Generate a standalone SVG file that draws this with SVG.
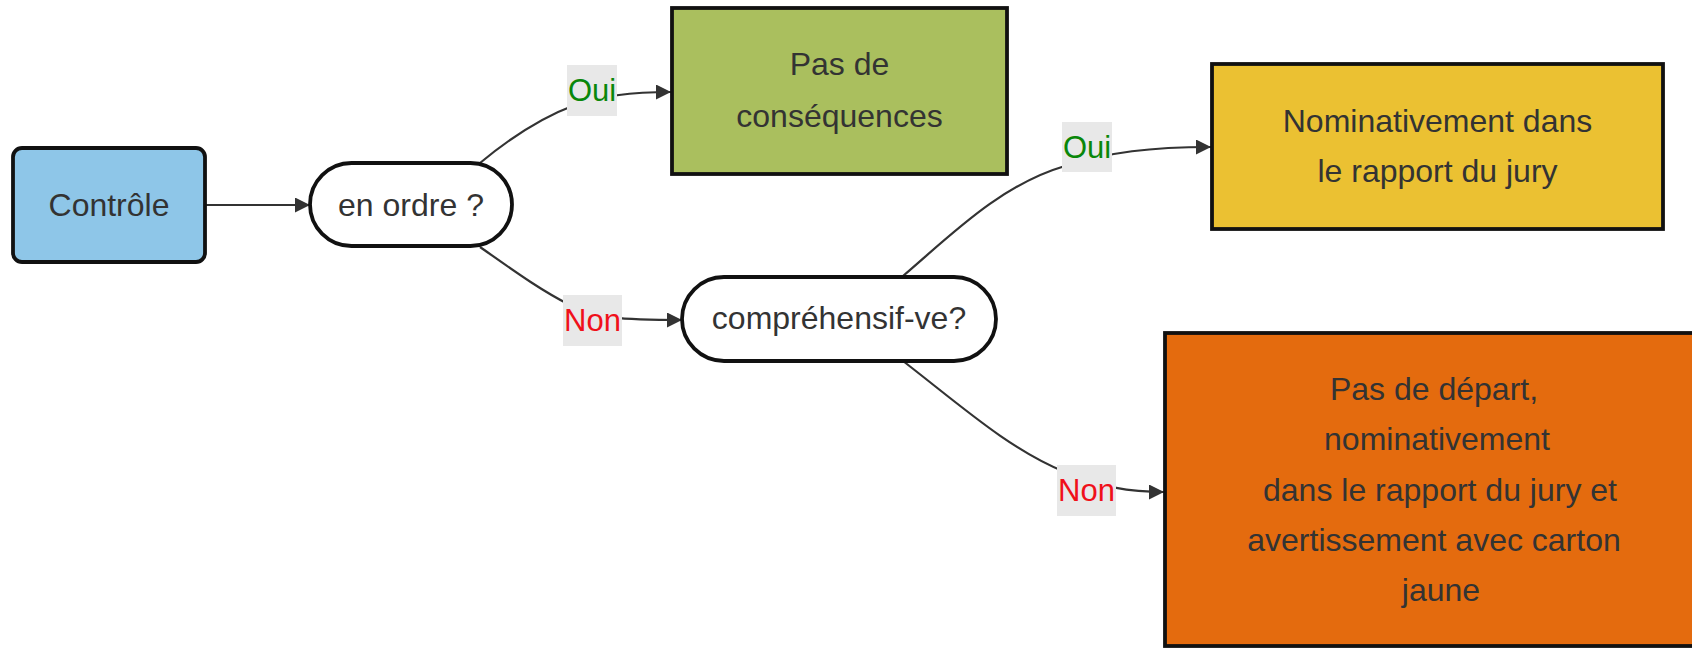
<svg xmlns="http://www.w3.org/2000/svg" width="1692" height="648" viewBox="0 0 1692 648">
<style>
.t{font-family:"Liberation Sans",Arial,sans-serif;font-size:32px;fill:#333;text-anchor:middle}
.lbl{font-family:"Liberation Sans",Arial,sans-serif;font-size:31px;text-anchor:middle}
.yes{fill:#0a870a}
.no{fill:#f0101a}
.lbg{fill:#e8e8e8}
.edge{fill:none;stroke:#333;stroke-width:2.2}
.node{stroke:#111;stroke-width:3.8}
</style>
<defs>
<marker id="arr" viewBox="0 0 10 10" refX="10" refY="5" markerUnits="userSpaceOnUse" markerWidth="16" markerHeight="15" orient="auto">
<path d="M0,0 L10,5 L0,10 z" fill="#333"/>
</marker>
</defs>
<rect width="1692" height="648" fill="#fff"/>
<g id="connectors">
<path class="edge" d="M205,205 L310,205" marker-end="url(#arr)"/>
<path class="edge" d="M480,163 C510,138 540,118 575,105 C600,96 630,92 671,92" marker-end="url(#arr)"/>
<path class="edge" d="M480,247 C510,268 540,290 570,305 C595,318 620,320 682,320" marker-end="url(#arr)"/>
<path class="edge" d="M903,276 C950,236 1000,185 1065,166 C1110,152 1150,147 1211,147" marker-end="url(#arr)"/>
<path class="edge" d="M903,361 C960,405 1010,450 1065,472 C1100,487 1130,492 1164,492" marker-end="url(#arr)"/>
</g>
<g id="edge-labels">
<g id="label-oui1"><rect class="lbg" x="567" y="65" width="50" height="51"/><text class="lbl yes" x="592" y="101">Oui</text></g>
<g id="label-non1"><rect class="lbg" x="563" y="295" width="59" height="51"/><text class="lbl no" x="592.5" y="331">Non</text></g>
<g id="label-oui2"><rect class="lbg" x="1062" y="122" width="50" height="50"/><text class="lbl yes" x="1087" y="158">Oui</text></g>
<g id="label-non2"><rect class="lbg" x="1057" y="465" width="59" height="51"/><text class="lbl no" x="1086.5" y="501">Non</text></g>
</g>
<g id="node-controle">
<rect class="node" x="13" y="148" width="192" height="114" rx="9" fill="#8ec6e8"/>
<text class="t" x="109" y="216">Contrôle</text>
</g>
<g id="node-enordre">
<rect class="node" x="310" y="163" width="202" height="83" rx="41.5" fill="#fff"/>
<text class="t" x="411" y="216">en ordre ?</text>
</g>
<g id="node-pasdeconsequences">
<rect class="node" x="672" y="8" width="335" height="166" fill="#aabf5e"/>
<text class="t" x="839.5" y="75">Pas de</text>
<text class="t" x="839.5" y="127">conséquences</text>
</g>
<g id="node-comprehensif">
<rect class="node" x="682" y="277" width="314" height="84" rx="42" fill="#fff"/>
<text class="t" x="839" y="329">compréhensif-ve?</text>
</g>
<g id="node-nominativement">
<rect class="node" x="1212" y="64" width="451" height="165" fill="#ebc132"/>
<text class="t" x="1437.5" y="132">Nominativement dans</text>
<text class="t" x="1437.5" y="182">le rapport du jury</text>
</g>
<g id="node-pasdedepart">
<rect class="node" x="1165" y="333" width="545" height="313" fill="#e46b0e"/>
<text class="t" x="1434" y="400">Pas de départ,</text>
<text class="t" x="1437" y="450">nominativement</text>
<text class="t" x="1440" y="501">dans le rapport du jury et</text>
<text class="t" x="1434" y="551">avertissement avec carton</text>
<text class="t" x="1441" y="601">jaune</text>
</g>
</svg>
